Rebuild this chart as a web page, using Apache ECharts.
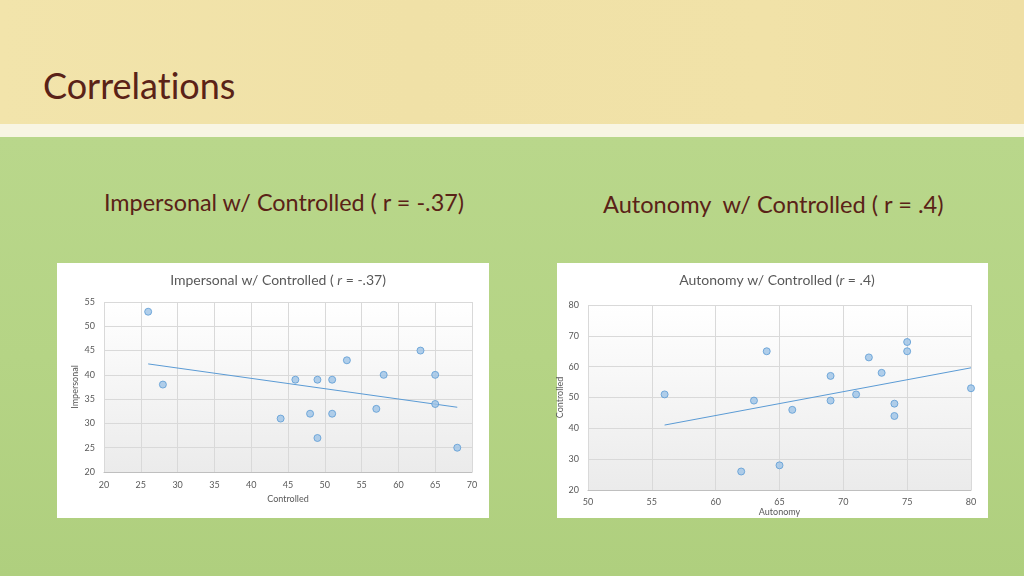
<!DOCTYPE html>
<html>
<head>
<meta charset="utf-8">
<script src="https://cdn.jsdelivr.net/npm/echarts@6/dist/echarts.min.js"></script>
<style>
  html, body { margin:0; padding:0; width:1024px; height:576px; overflow:hidden; }
  body { position:relative; font-family: Lato, "Open Sans", sans-serif; }
  #top { position:absolute; left:0; top:0; width:1024px; height:124px;
         background: linear-gradient(90deg, #f2e4ab 0%, #f0e1a7 40%, #f1e2a8 75%, #efdfa5 100%); }
  #strip { position:absolute; left:0; top:124px; width:1024px; height:13px; background:#f8f5e3; }
  #bottom { position:absolute; left:0; top:137px; width:1024px; height:439px;
         background: linear-gradient(180deg, #b9d78b 0%, #b5d485 50%, #afcf7e 100%); }
  .panel { position:absolute; background:#ffffff; top:263px; height:255px; }
  #p1 { left:57px; width:432px; }
  #p2 { left:557px; width:431px; }
  .h { position:absolute; color:#5a2217; white-space:nowrap; font-variant-ligatures:none; }
  #title { left:43px; top:63px; font-size:36px; }
  #s1 { left:104px; top:188px; font-size:23.4px; }
  #s2 { left:603px; top:190px; font-size:23.6px; }
  #chart { position:absolute; left:0; top:0; width:1024px; height:576px; }
</style>
</head>
<body>
<div id="top"></div>
<div id="strip"></div>
<div id="bottom"></div>
<div class="panel" id="p1"></div>
<div class="panel" id="p2"></div>
<div class="h" id="title">Correlations</div>
<div class="h" id="s1">Impersonal w/ Controlled ( r = -.37)</div>
<div class="h" id="s2">Autonomy&nbsp; w/ Controlled ( r = .4)</div>
<div id="chart"></div>
<script>
// Chart 1: Impersonal vs Controlled
const controlled1 = [26, 28, 44, 46, 48, 49, 49, 51, 51, 53, 57, 58, 63, 65, 65, 68];
const impersonal1 = [53, 38, 31, 39, 32, 39, 27, 39, 32, 43, 33, 40, 45, 40, 34, 25];
// Chart 2: Controlled vs Autonomy
const autonomy2   = [56, 62, 63, 64, 65, 66, 69, 69, 71, 72, 73, 74, 74, 75, 75, 80];
const controlled2 = [51, 26, 49, 65, 28, 46, 57, 49, 51, 63, 58, 48, 44, 68, 65, 53];

const xTicks1 = [20, 70, 5];
const yTicks1 = [20, 55, 5];
const xTicks2 = [50, 80, 5];
const yTicks2 = [20, 80, 10];

function pairs(xs, ys) { return xs.map((x, i) => [x, ys[i]]); }
function fit(xs, ys) {
  const n = xs.length;
  const mx = xs.reduce((a, b) => a + b, 0) / n;
  const my = ys.reduce((a, b) => a + b, 0) / n;
  let sxy = 0, sxx = 0;
  for (let i = 0; i < n; i++) { sxy += (xs[i]-mx)*(ys[i]-my); sxx += (xs[i]-mx)*(xs[i]-mx); }
  const b = sxy / sxx, a = my - b * mx;
  const x0 = Math.min(...xs), x1 = Math.max(...xs);
  return [[x0, a + b*x0], [x1, a + b*x1]];
}

const FONT = 'Lato';
const gridBg = { type:'linear', x:0, y:0, x2:0, y2:1,
  colorStops:[{offset:0, color:'#ffffff'}, {offset:1, color:'#ebebeb'}] };
const splitLine = { show:true, lineStyle:{ color:'#d9d9d9', width:1 } };
const lbl = { color:'#595959', fontSize:9, fontFamily:FONT };
const nameStyle = { color:'#595959', fontSize:9, fontFamily:FONT };

function xAxis(gi, t, name, gap, margin) {
  return { type:'value', gridIndex:gi, min:t[0], max:t[1], interval:t[2],
    name:name, nameLocation:'middle', nameGap:gap, nameTextStyle:nameStyle,
    axisLine:{ show:true, lineStyle:{ color:'#bfbfbf' } }, axisTick:{ show:false },
    axisLabel:Object.assign({ margin:margin }, lbl), splitLine:splitLine };
}
function yAxis(gi, t, name, gap) {
  return { type:'value', gridIndex:gi, min:t[0], max:t[1], interval:t[2],
    name:name, nameLocation:'middle', nameGap:gap, nameTextStyle:nameStyle,
    axisLine:{ show:false }, axisTick:{ show:false },
    axisLabel:Object.assign({ margin:9 }, lbl), splitLine:splitLine };
}
const marker = { color:'#9dc3e6', borderColor:'#5b9bd5', borderWidth:1 };
const titleStyle = { fontFamily:FONT, fontSize:14, fontWeight:'normal', color:'#595959',
  rich:{ i:{ fontStyle:'italic', fontFamily:FONT, fontSize:14, color:'#595959' } } };

const chart = echarts.init(document.getElementById('chart'), null, { renderer:'canvas' });
chart.setOption({
  animation:false,
  backgroundColor:'transparent',
  title:[
    { text:'Impersonal w/ Controlled ( {i|r} = -.37)', left:273, top:268, textAlign:'center',
      textStyle:titleStyle },
    { text:'Autonomy w/ Controlled ({i|r} = .4)', left:772, top:268, textAlign:'center',
      textStyle:titleStyle }
  ],
  grid:[
    { left:104, top:302, width:368, height:170, show:true, backgroundColor:gridBg, borderWidth:0 },
    { left:588, top:305, width:383, height:185, show:true, backgroundColor:gridBg, borderWidth:0 }
  ],
  xAxis:[ xAxis(0, xTicks1, 'Controlled', 23, 9), xAxis(1, xTicks2, 'Autonomy', 17, 8) ],
  yAxis:[ yAxis(0, yTicks1, 'Impersonal', 24), yAxis(1, yTicks2, 'Controlled', 21) ],
  series:[
    { type:'scatter', xAxisIndex:0, yAxisIndex:0, symbolSize:7, itemStyle:marker,
      data:pairs(controlled1, impersonal1), z:3 },
    { type:'line', xAxisIndex:0, yAxisIndex:0, data:fit(controlled1, impersonal1), symbol:'none',
      lineStyle:{ color:'#5b9bd5', width:1 }, z:2 },
    { type:'scatter', xAxisIndex:1, yAxisIndex:1, symbolSize:7, itemStyle:marker,
      data:pairs(autonomy2, controlled2), z:3 },
    { type:'line', xAxisIndex:1, yAxisIndex:1, data:fit(autonomy2, controlled2), symbol:'none',
      lineStyle:{ color:'#5b9bd5', width:1 }, z:2 }
  ]
});
</script>
</body>
</html>
